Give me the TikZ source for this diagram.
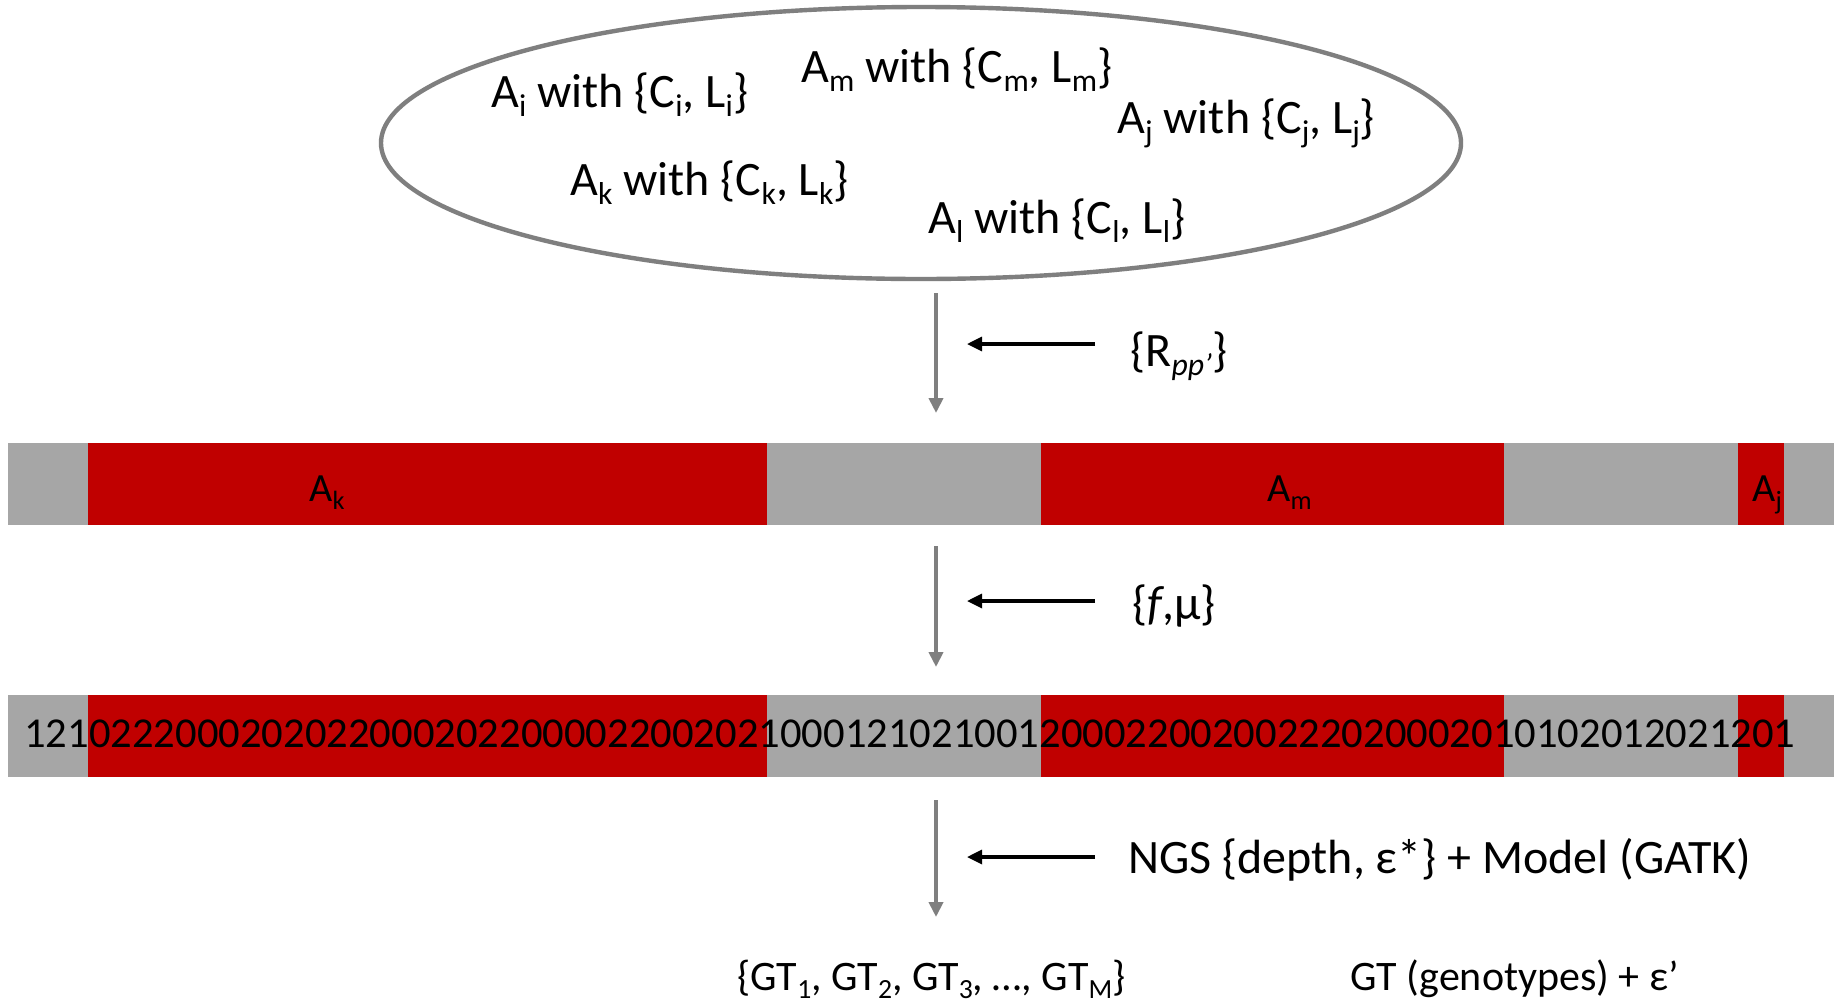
\documentclass[tikz,border=0pt]{standalone}
\usepackage{fontspec}
\usepackage{graphicx}
\setmainfont{Carlito}[Numbers={Lining,Monospaced}]
\usetikzlibrary{arrows.meta,shapes.geometric}
\definecolor{barred}{HTML}{C00000}
\definecolor{bargray}{HTML}{A6A6A6}
\definecolor{linegray}{HTML}{7F7F7F}
% lowered, reduced subscript
\newcommand{\lo}[1]{\raisebox{-0.2em}{\scalebox{0.66}{#1}}}
\begin{document}
\begin{tikzpicture}[x=0.5pt,y=-0.5pt,
  lbl/.style={font=\fontsize{24}{28}\selectfont, inner sep=0, anchor=base west},
  result/.style={font=\fontsize{21}{25}\selectfont, inner sep=0, anchor=base west},
  inner/.style={font=\fontsize{24}{28}\selectfont, inner sep=0, anchor=base west},
  barlbl/.style={font=\fontsize{20}{24}\selectfont, inner sep=0, anchor=base west},
  digits/.style={font=\fontsize{21.3}{25}\selectfont, inner sep=0, anchor=base west},
  seg/.style={anchor=north west, inner sep=0, outer sep=0, minimum height=41pt},
  flow/.style={draw=linegray, line width=2.2pt, -{Triangle[length=7.5pt,width=7pt]}},
  hint/.style={draw=black, line width=1.6pt, -{Triangle[length=7.5pt,width=7pt]}},
]
\fill[white] (0,0) rectangle (1839,1007);
\useasboundingbox (0,0) rectangle (1839,1007);

% pool of blocks
\node[ellipse, draw=linegray, line width=2.2pt, minimum width=540pt, minimum height=136pt, inner sep=0] (pool) at (921,143) {};
\node[inner] (ai) at (491,107) {A\lo{i} with \{C\lo{i}, L\lo{i}\}};
\node[inner] (am) at (801,82) {A\lo{m} with \{C\lo{m}, L\lo{m}\}};
\node[inner] (aj) at (1117,133) {A\lo{j} with \{C\lo{j}, L\lo{j}\}};
\node[inner] (ak) at (570,195) {A\lo{k} with \{C\lo{k}, L\lo{k}\}};
\node[inner] (al) at (928,233) {A\lo{l} with \{C\lo{l}, L\lo{l}\}};

% step 1
\coordinate (v1s) at (936,293);
\coordinate (v1e) at (936,413);
\draw[flow] (v1s) -- (v1e);
\coordinate (h1s) at (1095,344);
\coordinate (h1e) at (967,344);
\draw[hint] (h1s) -- (h1e);
\node[lbl] (rlab) at (1130,366) {\{R\lo{\itshape pp’}\}};

% haplotype bar with blocks
\node[seg, fill=bargray, minimum width=913pt] (bar1) at (8,443) {};
\node[seg, fill=barred, minimum width=339.5pt] (b1k) at (88,443) {};
\node[seg, fill=barred, minimum width=231.5pt] (b1m) at (1041,443) {};
\node[seg, fill=barred, minimum width=23pt] (b1j) at (1738,443) {};
\node[barlbl] (lk) at (309,501) {A\lo{k}};
\node[barlbl] (lm) at (1267,501) {A\lo{m}};
\node[barlbl] (lj) at (1752,501) {A\lo{j}};

% step 2
\coordinate (v2s) at (936,546);
\coordinate (v2e) at (936,667);
\draw[flow] (v2s) -- (v2e);
\coordinate (h2s) at (1095,601);
\coordinate (h2e) at (967,601);
\draw[hint] (h2s) -- (h2e);
\node[lbl] (flab) at (1132,619) {\{\textit{f},μ\}};

% genotype bar
\node[seg, fill=bargray, minimum width=913pt] (bar2) at (8,695) {};
\node[seg, fill=barred, minimum width=339.5pt] (b2k) at (88,695) {};
\node[seg, fill=barred, minimum width=231.5pt] (b2m) at (1041,695) {};
\node[seg, fill=barred, minimum width=23pt] (b2j) at (1738,695) {};
\node[digits] (seq) at (24,747) {1210222000202022000202200002200202100012102100120002200200222020002010102012021201};

% step 3
\coordinate (v3s) at (936,800);
\coordinate (v3e) at (936,917);
\draw[flow] (v3s) -- (v3e);
\coordinate (h3s) at (1095,857);
\coordinate (h3e) at (967,857);
\draw[hint] (h3s) -- (h3e);
\node[lbl] (ngs) at (1128,873) {NGS \{depth, ε*\} + Model (GATK)};

% result
\node[result] (gtl) at (737,990) {\{GT\lo{1}, GT\lo{2}, GT\lo{3}, …, GT\lo{M}\}};
\node[result] (gtg) at (1350,990) {GT (genotypes) + ε’};
\end{tikzpicture}
\end{document}
